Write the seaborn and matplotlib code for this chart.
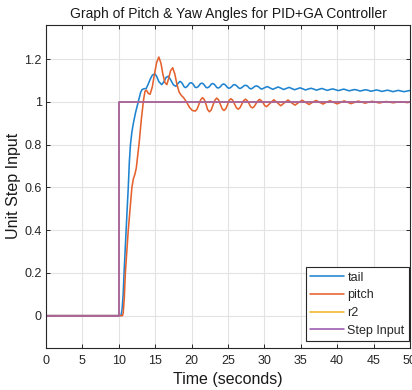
import numpy as np
import pandas as pd
import matplotlib
matplotlib.use("Agg")
import matplotlib.pyplot as plt
import seaborn as sns

# ---- response data (time in seconds, normalised angle) ----
tail_t = [0, 10.3, 10.45, 10.6, 10.75, 11.0, 11.15, 11.3, 11.45, 11.6, 11.8, 12.0,
          12.3, 12.7, 13.0, 13.2, 13.5, 13.75, 14.0, 14.3, 14.6, 14.95, 15.2, 15.5,
          15.9, 16.2, 16.5, 16.8, 17.1, 17.5, 17.85, 18.1, 18.4,
          18.6, 18.8, 18.95, 19.15, 19.35, 19.55, 19.7, 19.9,
          20.1, 20.3, 20.45, 20.65, 20.85, 21.05, 21.2, 21.4,
          21.6, 21.8, 21.95, 22.15, 22.35, 22.55, 22.7, 22.9,
          23.1, 23.3, 23.45, 23.65, 23.85, 24.05, 24.2, 24.4,
          24.6, 24.8, 24.95, 25.15, 25.35, 25.55, 25.7, 25.9,
          26.1, 26.3, 26.45, 26.65, 26.85, 27.05, 27.2, 27.4,
          27.6, 27.8, 27.95, 28.15, 28.35, 28.55, 28.7, 28.9,
          29.1, 29.3, 29.45, 29.65,
          30.0, 30.4, 30.8, 31.15, 31.5, 31.9, 32.3, 32.65, 33.0, 33.4, 33.8,
          34.15, 34.5, 34.9, 35.3, 35.65, 36.0, 36.4, 36.8, 37.15, 37.5, 37.9,
          38.3, 38.65, 39.0, 39.4, 39.8, 40.15, 40.5, 40.9, 41.3, 41.65, 42.0,
          42.4, 42.8, 43.15, 43.5, 43.9, 44.3, 44.65, 45.0, 45.4, 45.8, 46.15,
          46.5, 46.9, 47.3, 47.65, 48.0, 48.4, 48.8, 49.15, 49.5, 49.9, 50]
tail_y = [0, 0, 0.03, 0.1, 0.22, 0.4, 0.5, 0.6, 0.72, 0.8, 0.86, 0.9,
          0.95, 1.005, 1.045, 1.058, 1.062, 1.062, 1.08, 1.105, 1.125, 1.132, 1.12, 1.095,
          1.081, 1.095, 1.115, 1.12, 1.105, 1.08, 1.073, 1.085, 1.096,
          1.092, 1.082, 1.072, 1.067, 1.071, 1.079, 1.087, 1.090,
          1.087, 1.079, 1.070, 1.067, 1.070, 1.077, 1.085, 1.088,
          1.085, 1.077, 1.069, 1.066, 1.069, 1.076, 1.083, 1.086,
          1.083, 1.075, 1.068, 1.065, 1.068, 1.075, 1.081, 1.084,
          1.081, 1.073, 1.067, 1.064, 1.067, 1.073, 1.079, 1.081,
          1.078, 1.072, 1.066, 1.063, 1.066, 1.071, 1.076, 1.078,
          1.076, 1.070, 1.064, 1.061, 1.064, 1.069, 1.073, 1.075,
          1.073, 1.068, 1.063, 1.060,
          1.066, 1.072, 1.065, 1.059, 1.064, 1.070, 1.064, 1.058, 1.063, 1.068, 1.062,
          1.057, 1.061, 1.066, 1.061, 1.056, 1.060, 1.064, 1.060, 1.055, 1.059, 1.063,
          1.058, 1.054, 1.058, 1.061, 1.057, 1.053, 1.056, 1.060, 1.056, 1.052, 1.055,
          1.058, 1.055, 1.051, 1.054, 1.057, 1.054, 1.050, 1.053, 1.056, 1.053, 1.049,
          1.052, 1.055, 1.052, 1.048, 1.051, 1.054, 1.051, 1.048, 1.050, 1.053, 1.053]

pitch_t = [0, 10.5, 10.6, 10.75, 10.9, 11.1, 11.3, 11.55, 11.8, 12.0, 12.2, 12.4,
           12.6, 12.8, 13.1, 13.4, 13.6, 13.8, 14.05, 14.3, 14.6, 14.9, 15.2, 15.5,
           15.8, 16.05, 16.35, 16.6, 16.85, 17.1, 17.4, 17.7, 18.0, 18.3, 18.6,
           18.9, 19.3, 19.7, 20.1, 20.5,
           20.75, 21.0, 21.25, 21.5, 21.75, 22.0, 22.2, 22.45,
           22.7, 22.95, 23.2, 23.45, 23.7, 23.95, 24.2, 24.45,
           24.7, 24.95, 25.15, 25.4, 25.65, 25.9, 26.15, 26.4,
           26.65, 26.9, 27.15, 27.4, 27.65, 27.9, 28.1, 28.35,
           28.6, 28.85, 29.1, 29.35, 29.6, 29.85, 30.05, 30.3,
           30.8, 31.3, 31.8, 32.25, 32.75, 33.25, 33.7, 34.2, 34.7, 35.2, 35.65,
           36.15, 36.6, 37.1, 37.6, 38.05, 38.5, 39.0, 39.5, 40.0, 40.5, 40.95,
           41.4, 41.9, 42.4, 42.9, 43.4, 43.85, 44.3, 44.8, 45.3, 45.8, 46.3,
           46.75, 47.2, 47.7, 48.2, 48.7, 49.2, 49.65, 50]
pitch_y = [0, 0, 0.01, 0.08, 0.2, 0.3, 0.4, 0.5, 0.6, 0.64, 0.66, 0.69,
           0.75, 0.81, 0.92, 1.01, 1.05, 1.055, 1.04, 1.036, 1.07, 1.13, 1.185, 1.21,
           1.18, 1.13, 1.09, 1.081, 1.11, 1.145, 1.16, 1.13, 1.08, 1.045, 1.03,
           1.02, 1.0, 0.975, 0.96, 0.957,
           0.966, 0.988, 1.010, 1.020, 1.011, 0.987, 0.964, 0.954,
           0.963, 0.986, 1.008, 1.018, 1.010, 0.989, 0.968, 0.960,
           0.968, 0.988, 1.007, 1.015, 1.008, 0.990, 0.973, 0.966,
           0.973, 0.990, 1.006, 1.013, 1.006, 0.992, 0.978, 0.972,
           0.978, 0.992, 1.005, 1.012, 1.005, 0.995, 0.983, 0.978,
           0.994, 1.010, 0.996, 0.982, 0.996, 1.009, 0.997, 0.985, 0.997, 1.008, 0.998,
           0.988, 0.998, 1.007, 0.998, 0.990, 0.998, 1.006, 0.998, 0.991, 0.998, 1.005,
           0.999, 0.992, 0.998, 1.004, 0.999, 0.994, 0.999, 1.003, 0.999, 0.995, 0.999,
           1.002, 0.999, 0.996, 0.999, 1.001, 0.999, 0.997, 0.999]

r2_t = [0, 10, 10, 50]
r2_y = [0, 0, 1, 1]

step_t = [0, 10, 10, 50]
step_y = [0, 0, 1, 1]

series_names = ["tail", "pitch", "r2", "Step Input"]
series_colors = ["#1f84d0", "#e5622e", "#f0b429", "#9a56ae"]

x_ticks = [0, 5, 10, 15, 20, 25, 30, 35, 40, 45, 50]
y_ticks = [0, 0.2, 0.4, 0.6, 0.8, 1.0, 1.2]
y_tick_labels = ["0", "0.2", "0.4", "0.6", "0.8", "1", "1.2"]

frames = []
for name, t, y in zip(series_names,
                      [tail_t, pitch_t, r2_t, step_t],
                      [tail_y, pitch_y, r2_y, step_y]):
    frames.append(pd.DataFrame({"time": t, "value": y, "series": name}))
df = pd.concat(frames, ignore_index=True)

sns.set_style("whitegrid")
plt.rcParams["font.family"] = ["Liberation Sans", "DejaVu Sans"]

fig = plt.figure(figsize=(4.12, 3.90), dpi=100)
ax = fig.add_axes([0.1117, 0.1085, 0.8833, 0.8274])

sns.lineplot(data=df, x="time", y="value", hue="series", hue_order=series_names,
             palette=series_colors, estimator=None, sort=False, units="series",
             linewidth=1.15, ax=ax)

ax.set_xlim(0, 50)
ax.set_ylim(-0.15, 1.36)
ax.set_xticks(x_ticks)
ax.set_xticklabels([str(v) for v in x_ticks])
ax.set_yticks(y_ticks)
ax.set_yticklabels(y_tick_labels)

ax.grid(True, color="#e3e3e3", linewidth=0.8)
for s in ax.spines.values():
    s.set_visible(True)
    s.set_color("#262626")
    s.set_linewidth(0.8)
ax.tick_params(direction="in", length=3, width=0.7, color="#262626",
               labelsize=9, labelcolor="#262626", top=True, right=True,
               bottom=True, left=True, pad=3)
ax.tick_params(axis="x", pad=5)

ax.set_title("Graph of Pitch & Yaw Angles for PID+GA Controller",
             fontsize=10, color="#1a1a1a", pad=5)
ax.set_xlabel("Time (seconds)", fontsize=11.5, color="#1a1a1a", labelpad=4)
ax.set_ylabel("Unit Step Input", fontsize=11.5, color="#1a1a1a")
ax.yaxis.set_label_coords(-0.068, 0.5)

leg = ax.legend(loc="lower right", bbox_to_anchor=(0.9975, 0.021),
                fontsize=9, frameon=True, fancybox=False,
                edgecolor="#262626", framealpha=1, handlelength=2.7,
                handletextpad=0.3, labelspacing=0.45, borderpad=0.35,
                borderaxespad=0.0)
leg.get_frame().set_linewidth(0.8)

fig.savefig("out.png", dpi=100)
